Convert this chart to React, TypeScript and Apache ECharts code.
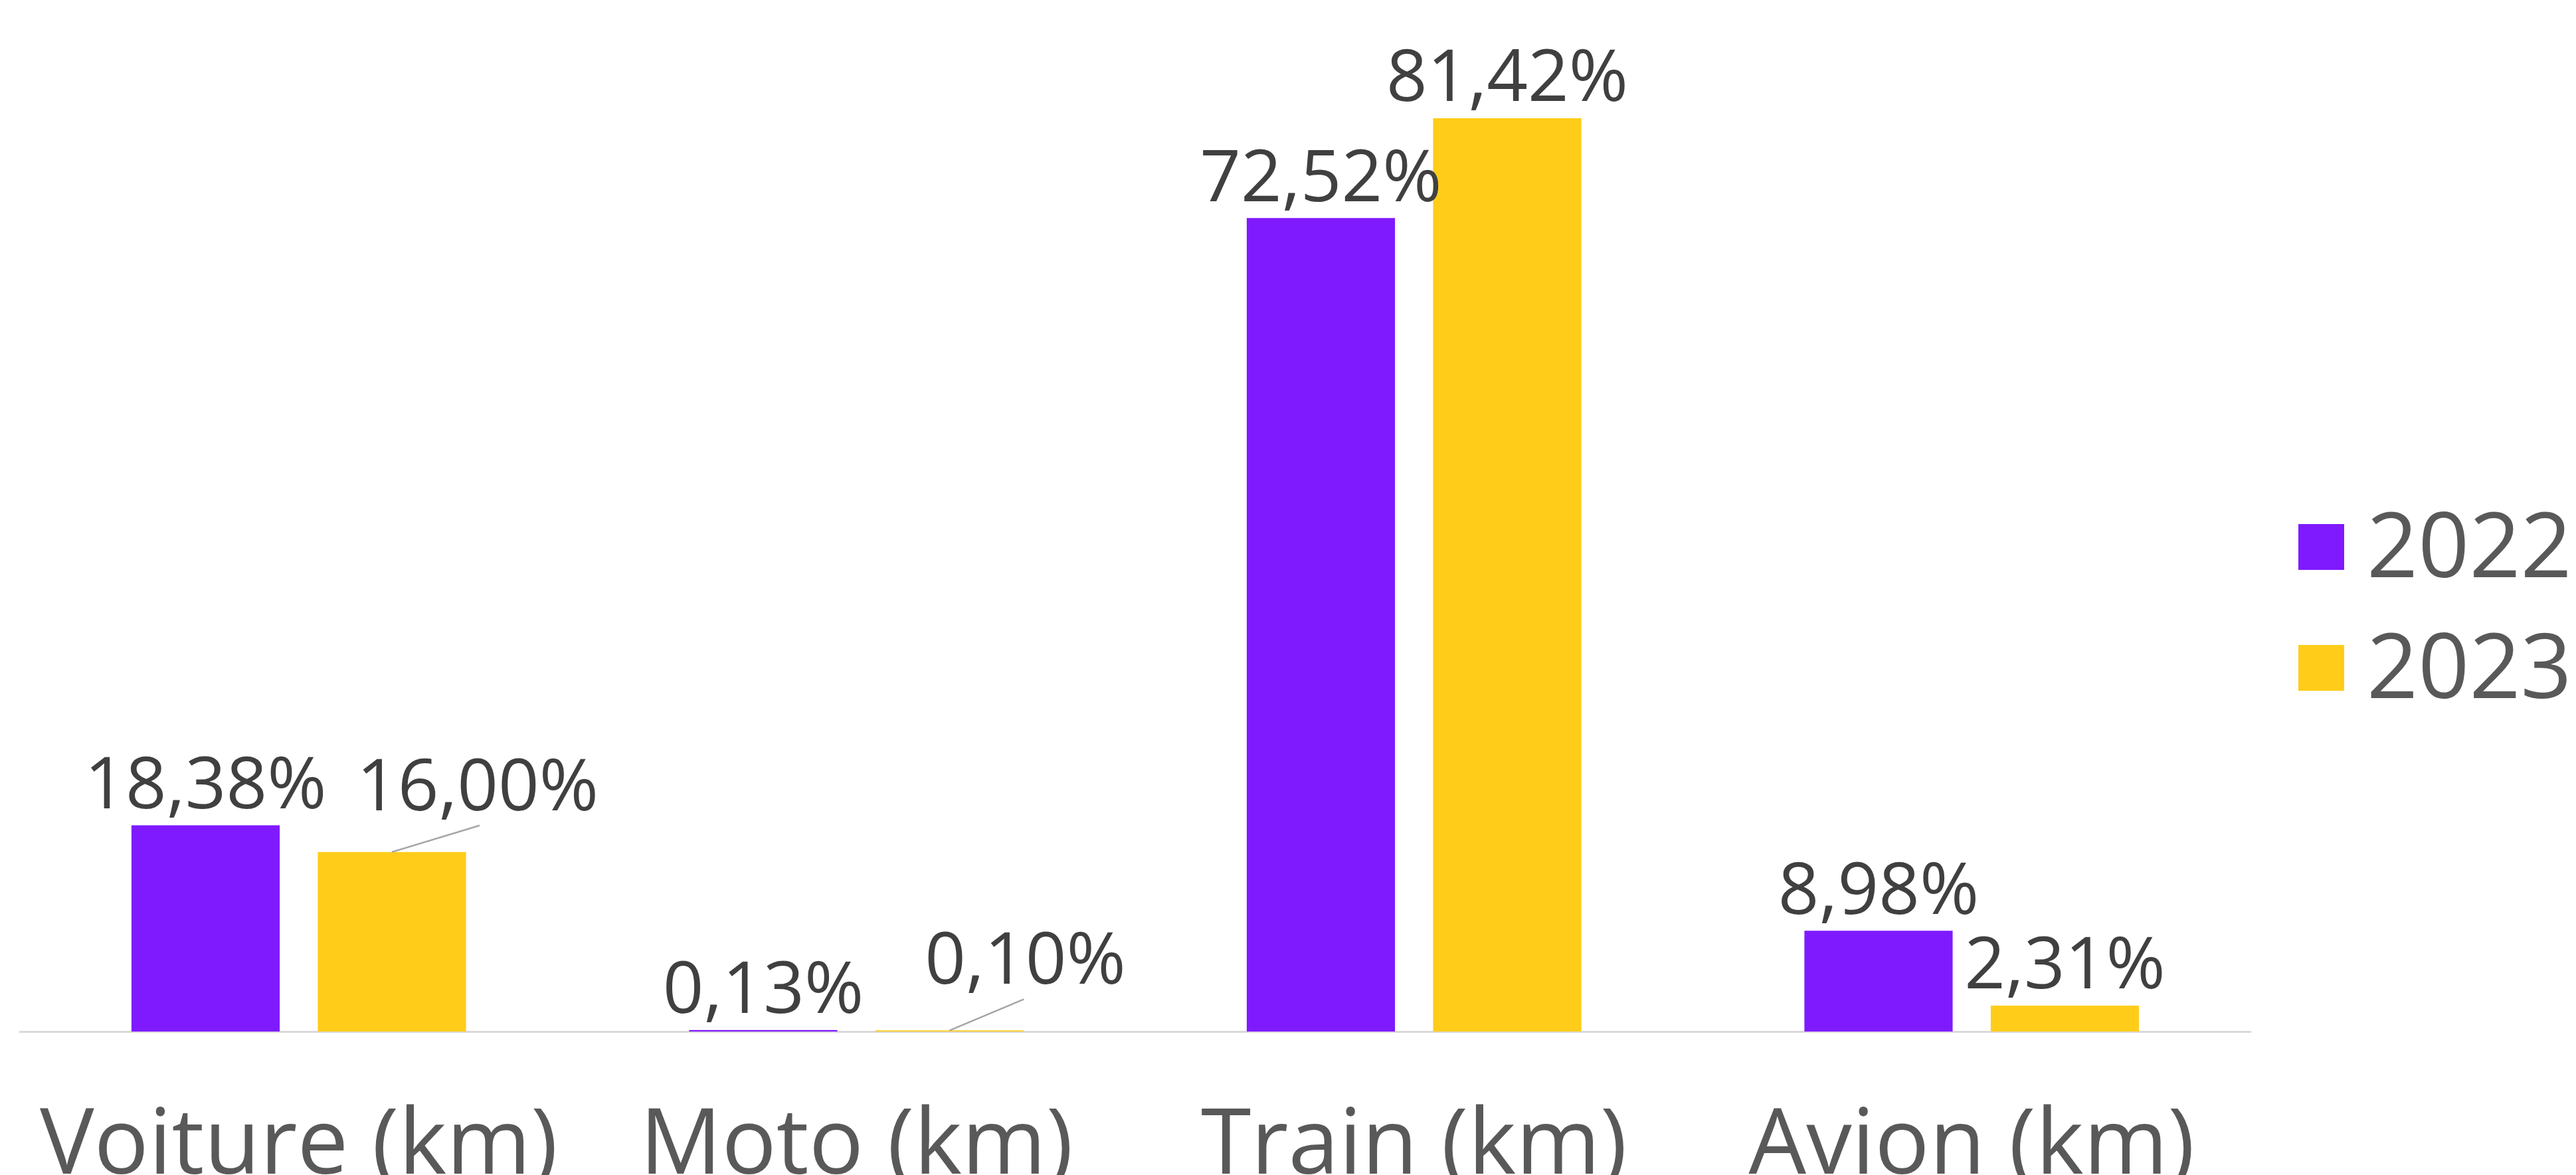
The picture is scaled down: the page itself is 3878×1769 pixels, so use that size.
import React, { useEffect, useRef } from "react";
import * as echarts from "echarts";

const categories = ["Voiture (km)", "Moto (km)", "Train (km)", "Avion (km)"];
const seriesNames = ["2022", "2023"];
const values2022 = [18.38, 0.13, 72.52, 8.98];
const values2023 = [16.0, 0.1, 81.42, 2.31];

const COLORS = ["#7F1AFF", "#FFCC1A"];
const FONT = "'Open Sans', 'Noto Sans', sans-serif";
const BAR_GAP = 0.257;
const CAT_GAP = 0.4;

const fmt = (v: number) => v.toFixed(2).replace(".", ",") + "%";

// label displacements (seriesIndex-dataIndex -> [dx, dy]) and leader-line ends
const moved: Record<string, [number, number]> = {
  "1-0": [129, -37],
  "1-1": [114, -45],
};
const leaderEnds: Record<string, [number, number]> = {
  "1-0": [132, -40],
  "1-1": [112, -47],
};

export default function App() {
  const ref = useRef<HTMLDivElement>(null);
  useEffect(() => {
    if (!ref.current) return;
    const chart = echarts.init(ref.current, undefined, { renderer: "svg" });
    const label = {
      show: true,
      position: "top" as const,
      distance: 13,
      color: "#404040",
      fontFamily: FONT,
      fontSize: 108,
      fontWeight: 400,
      formatter: (p: any) => fmt(p.value),
    };
    const allSeries = [values2022, values2023];
    const leaderData: number[][] = [];
    allSeries.forEach((vals, s) =>
      vals.forEach((v, i) => {
        if (leaderEnds[`${s}-${i}`]) leaderData.push([i, v, s]);
      })
    );
    chart.setOption({
      animation: false,
      backgroundColor: "#ffffff",
      grid: {
        left: 30,
        right: 490,
        top: 33,
        bottom: 216,
        containLabel: false,
        outerBoundsMode: "none",
      },
      legend: {
        orient: "vertical",
        left: 3455,
        top: 744,
        itemWidth: 69,
        itemHeight: 69,
        itemGap: 33,
        icon: "rect",
        data: seriesNames,
        formatter: "{a|{name}}",
        textStyle: {
          color: "#595959",
          fontFamily: FONT,
          fontSize: 135,
          lineHeight: 135,
          rich: {
            a: {
              color: "#595959",
              fontFamily: FONT,
              fontSize: 135,
              fontWeight: 400,
              lineHeight: 135,
              padding: [0, 0, 14, 29],
            },
          },
        },
      },
      xAxis: {
        type: "category",
        data: categories,
        axisTick: { show: false },
        axisLine: { lineStyle: { color: "#D9D9D9", width: 3 } },
        axisLabel: {
          color: "#595959",
          fontFamily: FONT,
          fontSize: 137,
          fontWeight: 400,
          lineHeight: 137,
          margin: 92,
          interval: 0,
        },
      },
      yAxis: {
        type: "value",
        min: 0,
        max: 90,
        show: false,
        splitLine: { show: false },
      },
      labelLayout: (params: any) => {
        const m = moved[`${params.seriesIndex}-${params.dataIndex}`];
        if (m) return { dx: m[0], dy: m[1] };
        return {};
      },
      series: [
        {
          name: seriesNames[0],
          type: "bar",
          data: values2022,
          itemStyle: { color: COLORS[0] },
          barGap: `${BAR_GAP * 100}%`,
          barCategoryGap: `${CAT_GAP * 100}%`,
          label,
          labelLine: { show: false },
        },
        {
          name: seriesNames[1],
          type: "bar",
          data: values2023,
          itemStyle: { color: COLORS[1] },
          barGap: `${BAR_GAP * 100}%`,
          barCategoryGap: `${CAT_GAP * 100}%`,
          label,
          labelLine: { show: false },
        },
        {
          name: "leaders",
          type: "custom",
          silent: true,
          z: 5,
          data: leaderData,
          renderItem: (params: any, api: any) => {
            const cat = api.value(0);
            const val = api.value(1);
            const s = api.value(2);
            const pt = api.coord([cat, val]);
            const band = api.size([1, 0])[0];
            const barW = (band * (1 - CAT_GAP)) / (2 + BAR_GAP);
            const off = (barW * (1 + BAR_GAP)) / 2;
            const x0 = pt[0] + (s === 0 ? -off : off);
            const y0 = pt[1];
            const e = leaderEnds[`${s}-${cat}`];
            return {
              type: "line",
              shape: { x1: x0, y1: y0, x2: x0 + e[0], y2: y0 + e[1] },
              style: { stroke: "#A6A6A6", lineWidth: 2.5 },
            };
          },
        },
      ],
    });
    return () => chart.dispose();
  }, []);
  return (
    <div
      ref={ref}
      style={{ position: "fixed", left: 0, top: 0, width: 3878, height: 1769 }}
    />
  );
}
